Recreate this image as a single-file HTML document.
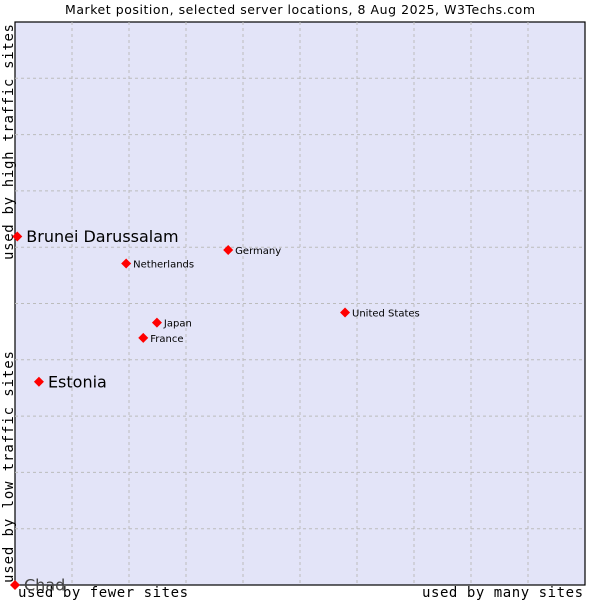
<!DOCTYPE html>
<html><head><meta charset="utf-8"><style>
body{margin:0;background:#fff;}
svg{display:block;font-family:"DejaVu Sans","Liberation Sans",sans-serif;}
</style></head><body>
<svg id="chart" width="600" height="600">
<text x="65" y="14" textLength="470" font-size="12.5" fill="#000">Market position, selected server locations, 8 Aug 2025, W3Techs.com</text>
<rect x="15" y="22" width="570" height="563" fill="#e3e4f8" stroke="#000" stroke-width="1.2"/>
<g id="grid"></g>
<text x="18" y="597" textLength="170" font-family="'DejaVu Sans Mono','Liberation Mono',monospace" font-size="14">used by fewer sites</text>
<text x="422" y="597" textLength="161" font-family="'DejaVu Sans Mono','Liberation Mono',monospace" font-size="14">used by many sites</text>
<text transform="translate(13,583) rotate(-90)" textLength="232" font-family="'DejaVu Sans Mono','Liberation Mono',monospace" font-size="14">used by low traffic sites</text>
<text transform="translate(13,260) rotate(-90)" textLength="236" font-family="'DejaVu Sans Mono','Liberation Mono',monospace" font-size="14">used by high traffic sites</text>
<g id="points"></g>
</svg>
<script>
const countries=["Brunei Darussalam","Estonia","Netherlands","Germany","United States","Japan","France","Chad"];
const xValues=[0.4,4.2,19.5,37.4,57.9,24.9,22.5,0];
const yValues=[61.9,36.1,57.1,59.5,48.4,46.6,43.9,0];
const bigLabel=[true,true,false,false,false,false,false,true];
const NS="http://www.w3.org/2000/svg";
const L=15,T=22,W=570,H=563;
const xs=v=>L+v/100*W, ys=v=>T+H-v/100*H;
const grid=document.getElementById('grid');
for(let i=1;i<10;i++){
 const a=document.createElementNS(NS,'line');
 a.setAttribute('x1',xs(i*10));a.setAttribute('x2',xs(i*10));a.setAttribute('y1',T);a.setAttribute('y2',T+H);
 a.setAttribute('stroke','#bcbcbc');a.setAttribute('stroke-dasharray','3,3');
 
 
 grid.appendChild(a);
 const b=document.createElementNS(NS,'line');
 b.setAttribute('y1',ys(i*10));b.setAttribute('y2',ys(i*10));b.setAttribute('x1',L);b.setAttribute('x2',L+W);
 b.setAttribute('stroke','#bcbcbc');b.setAttribute('stroke-dasharray','3,3');
 
 
 grid.appendChild(b);
}
const pts=document.getElementById('points');
countries.forEach((c,i)=>{
 const x=xs(xValues[i]),y=ys(yValues[i]);
 const d=document.createElementNS(NS,'path');
 d.setAttribute('d',`M${x-5},${y}L${x},${y-5}L${x+5},${y}L${x},${y+5}Z`);
 d.setAttribute('fill','#ff0000');
 
 
 pts.appendChild(d);
 const t=document.createElementNS(NS,'text');
 t.setAttribute('x',x+(bigLabel[i]?9:7));
 t.setAttribute('y',y+(bigLabel[i]?5.5:4));
 t.setAttribute('font-size',bigLabel[i]?'16':'10');
 t.setAttribute('fill',c==='Chad'?'#444':'#000');
 t.textContent=c;
 
 
 pts.appendChild(t);
});
</script>
</body></html>
